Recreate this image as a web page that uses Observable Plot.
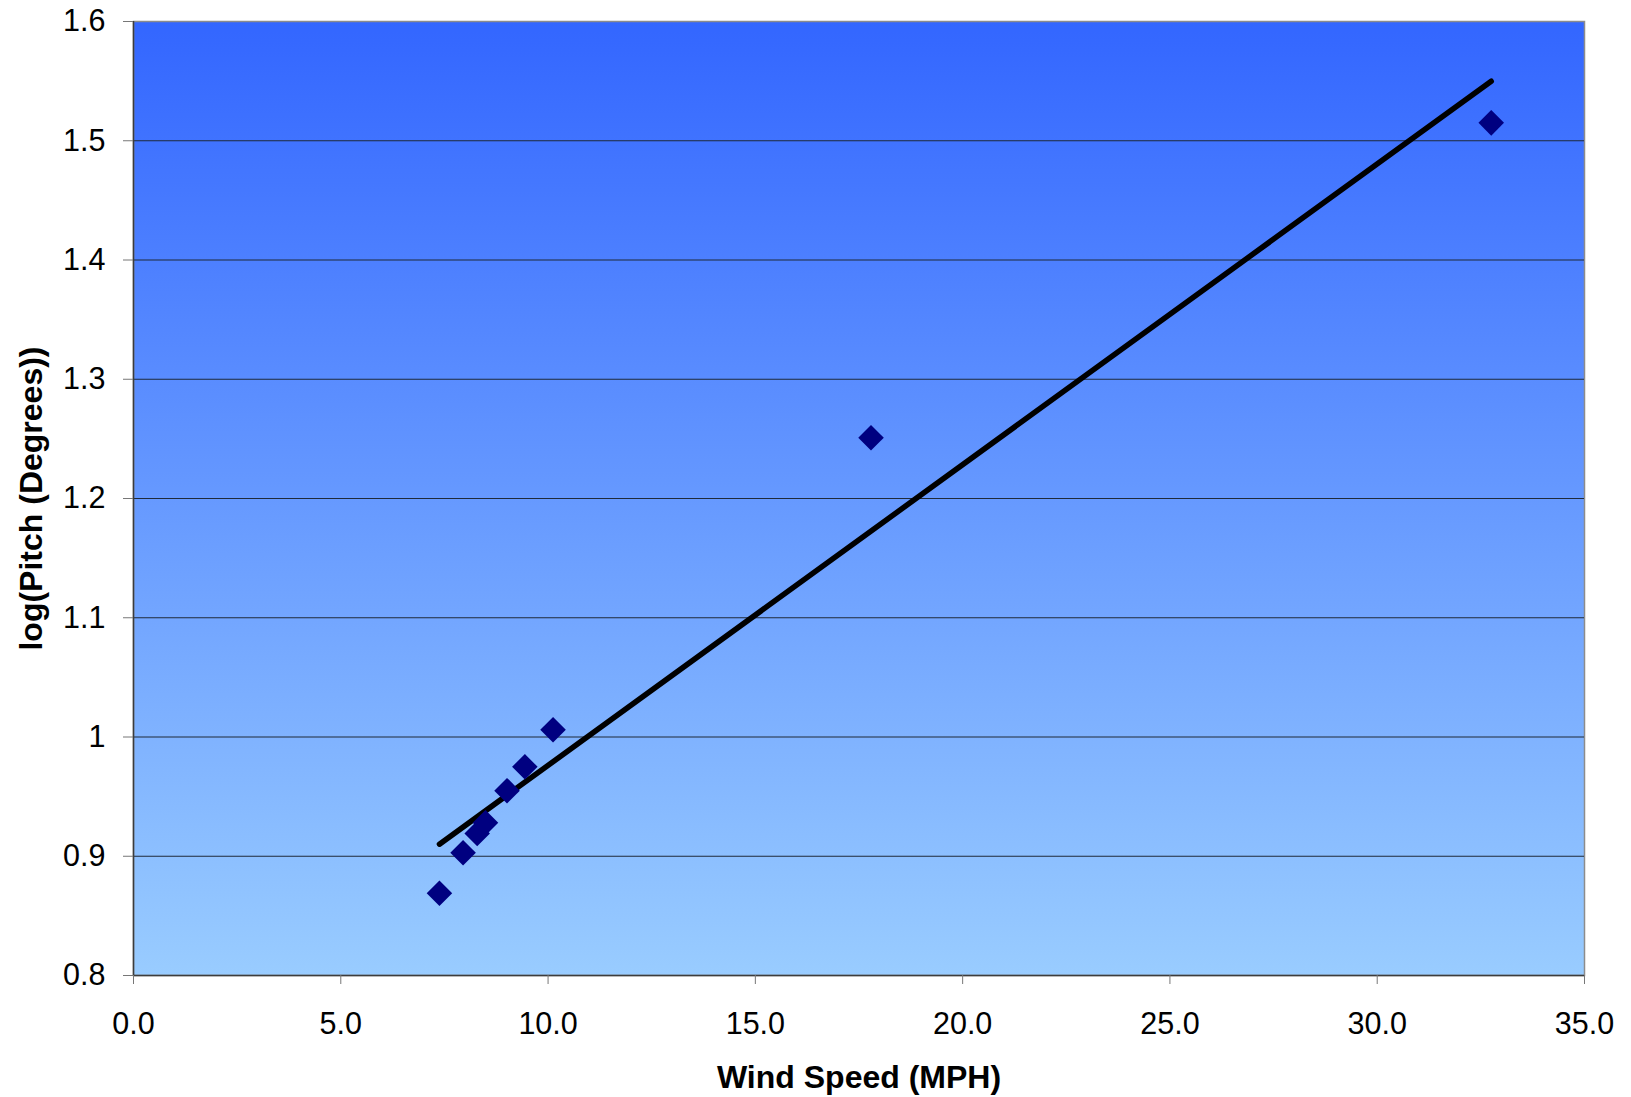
<!DOCTYPE html>
<html>
<head>
<meta charset="utf-8">
<script src="https://cdn.jsdelivr.net/npm/d3@7"></script>
<script src="https://cdn.jsdelivr.net/npm/@observablehq/plot@0.6"></script>
<style>
  html, body { margin: 0; padding: 0; background: #ffffff; }
</style>
</head>
<body>
<div id="chart"></div>
<script>
// Data
const windSpeed = [7.38, 7.95, 8.29, 8.49, 9.01, 9.44, 10.12, 17.79, 32.75];
const logPitch  = [0.869, 0.903, 0.919, 0.928, 0.955, 0.975, 1.006, 1.251, 1.515];

const xTicks = [0, 5, 10, 15, 20, 25, 30, 35];
const xTickLabels = ["0.0", "5.0", "10.0", "15.0", "20.0", "25.0", "30.0", "35.0"];
const yTicks = [0.8, 0.9, 1.0, 1.1, 1.2, 1.3, 1.4, 1.5, 1.6];
const yTickLabels = ["0.8", "0.9", "1", "1.1", "1.2", "1.3", "1.4", "1.5", "1.6"];
const gridValues = [0.9, 1.0, 1.1, 1.2, 1.3, 1.4, 1.5];

const xTitle = "Wind Speed (MPH)";
const yTitle = "log(Pitch (Degrees))";

const data = windSpeed.map((x, i) => ({x, y: logPitch[i]}));

const fontFamily = "'Liberation Sans', Arial, Helvetica, sans-serif";

const gradientDefs = () => {
  const defs = d3.create("svg:defs");
  const g = defs.append("linearGradient")
    .attr("id", "bgGrad")
    .attr("x1", 0).attr("y1", 0).attr("x2", 0).attr("y2", 1);
  g.append("stop").attr("offset", "0%").attr("stop-color", "#3366ff");
  g.append("stop").attr("offset", "100%").attr("stop-color", "#99ccff");
  return defs.node();
};

const chart = Plot.plot({
  width: 1631,
  height: 1097,
  marginLeft: 133,
  marginRight: 47,
  marginTop: 21,
  marginBottom: 122,
  style: {fontFamily, fontSize: "30.5px", color: "#000", background: "#fff"},
  x: {domain: [0, 35]},
  y: {domain: [0.8, 1.6]},
  marks: [
    gradientDefs,
    Plot.frame({fill: "url(#bgGrad)", stroke: "#8c8c8c", strokeWidth: 1.5}),
    Plot.ruleY(gridValues, {stroke: "#1f2a3a", strokeWidth: 1.2}),
    Plot.ruleX([0], {stroke: "#3c3c3c", strokeWidth: 1.5}),
    Plot.ruleY([0.8], {stroke: "#3c3c3c", strokeWidth: 1.5}),
    Plot.axisX({
      ticks: xTicks,
      tickFormat: (d) => xTickLabels[xTicks.indexOf(d)],
      tickSize: 9,
      tickPadding: 28,
      stroke: "#777",
      fontSize: 30.5,
      label: null
    }),
    Plot.axisY({
      ticks: yTicks,
      tickFormat: (d) => yTickLabels[yTicks.findIndex(t => Math.abs(t - d) < 1e-9)],
      tickSize: 10,
      tickPadding: 18,
      stroke: "#777",
      fontSize: 30.5,
      label: null
    }),
    Plot.linearRegressionY(data, {x: "x", y: "y", ci: 0, stroke: "#000", strokeWidth: 5.5}),
    Plot.dot(data, {x: "x", y: "y", symbol: "diamond2", r: 11.5, fill: "#000080", stroke: "none"}),
    Plot.text([xTitle], {frameAnchor: "bottom", dy: 112, fontSize: 32, fontWeight: "bold", fill: "#000"}),
    Plot.text([yTitle], {frameAnchor: "left", dx: -102, rotate: -90, textAnchor: "middle", fontSize: 32, fontWeight: "bold", fill: "#000"})
  ]
});

document.getElementById("chart").appendChild(chart);
</script>
</body>
</html>
